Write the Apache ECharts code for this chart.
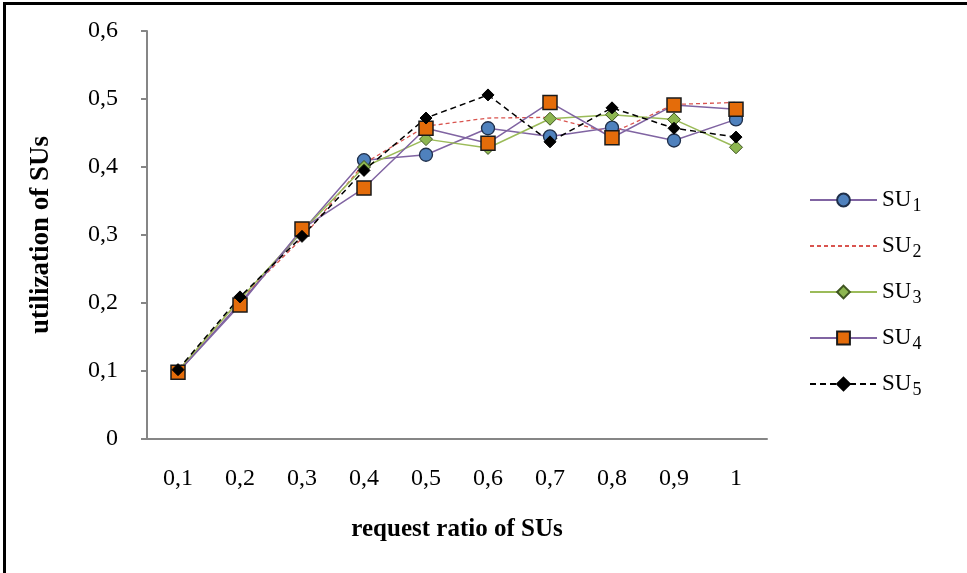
<!DOCTYPE html>
<html>
<head>
<meta charset="utf-8">
<script src="https://cdn.jsdelivr.net/npm/echarts@6/dist/echarts.min.js"></script>
<style>
  html, body { margin: 0; padding: 0; background: #fff; }
  #frame { position: absolute; left: 3px; top: 2px; width: 964px; height: 571px;
           border-left: 3px solid #000; border-top: 3px solid #000; box-sizing: border-box; }
  #chart { position: absolute; left: 0; top: 0; width: 967px; height: 573px; }
</style>
</head>
<body>
<div id="frame"></div>
<div id="chart"></div>
<script>
// request ratio of SUs (categories)
const ratios = ['0,1', '0,2', '0,3', '0,4', '0,5', '0,6', '0,7', '0,8', '0,9', '1'];

// utilization of each SU
const su1 = [0.098, 0.200, 0.305, 0.410, 0.418, 0.457, 0.445, 0.458, 0.439, 0.470];
const su2 = [0.100, 0.205, 0.295, 0.405, 0.460, 0.472, 0.473, 0.450, 0.492, 0.495];
const su3 = [0.100, 0.205, 0.305, 0.400, 0.441, 0.428, 0.471, 0.477, 0.470, 0.429];
const su4 = [0.098, 0.197, 0.309, 0.369, 0.457, 0.435, 0.495, 0.443, 0.491, 0.485];
const su5 = [0.102, 0.209, 0.298, 0.395, 0.472, 0.506, 0.437, 0.487, 0.457, 0.444];

const font = '"Liberation Serif", "DejaVu Serif", serif';
const axisGrey = '#868686';

const chart = echarts.init(document.getElementById('chart'), null, { renderer: 'canvas' });

function lineSeries(name, data, opts) {
  return Object.assign({
    name: name,
    type: 'line',
    data: data,
    z: 2
  }, opts);
}

chart.setOption({
  animation: false,
  backgroundColor: 'transparent',
  grid: { left: 147, right: 200, top: 31, bottom: 134 },
  xAxis: {
    type: 'category',
    data: ratios,
    boundaryGap: true,
    name: 'request ratio of SUs',
    nameLocation: 'middle',
    nameGap: 78,
    nameTextStyle: { fontFamily: font, fontSize: 25, fontWeight: 'bold', color: '#000' },
    axisLine: { lineStyle: { color: axisGrey, width: 2 } },
    axisTick: { show: false },
    axisLabel: { fontFamily: font, fontSize: 24, color: '#000', margin: 28 },
    splitLine: { show: false }
  },
  yAxis: {
    type: 'value',
    min: 0,
    max: 0.6,
    interval: 0.1,
    name: 'utilization of SUs',
    nameLocation: 'middle',
    nameGap: 92,
    nameTextStyle: { fontFamily: font, fontSize: 27, fontWeight: 'bold', color: '#000' },
    axisLine: { show: true, lineStyle: { color: axisGrey, width: 2 } },
    axisTick: { show: true, length: 6, lineStyle: { color: axisGrey, width: 2 } },
    axisLabel: {
      fontFamily: font, fontSize: 24, color: '#000', margin: 29,
      formatter: v => (Math.round(v * 10) / 10).toString().replace('.', ',')
    },
    splitLine: { show: false }
  },
  legend: {
    orient: 'vertical',
    left: 804,
    top: 180,
    itemWidth: 67,
    itemHeight: 16,
    itemGap: 16,
    data: [
      'SU1',
      { name: 'SU2', itemStyle: { color: 'rgba(0,0,0,0)', borderWidth: 0 } },
      'SU3', 'SU4', 'SU5'
    ],
    formatter: n => '{a|SU}{b|' + n.slice(2) + '}',
    textStyle: {
      fontFamily: font,
      color: '#000',
      rich: {
        a: { fontFamily: font, fontSize: 23, color: '#000', verticalAlign: 'top', lineHeight: 24 },
        b: { fontFamily: font, fontSize: 18, color: '#000', padding: [12, 0, 0, 1], lineHeight: 24 }
      }
    }
  },
  series: [
    lineSeries('SU1', su1, {
      symbol: 'circle', symbolSize: 13,
      lineStyle: { color: '#8064A2', width: 1.5 },
      itemStyle: { color: '#4F81BD', borderColor: '#1F2F4A', borderWidth: 1.3 }
    }),
    lineSeries('SU2', su2, {
      symbol: 'none',
      lineStyle: { color: '#D9544F', width: 1.3, type: [4, 3] },
      itemStyle: { color: '#D9544F' }
    }),
    lineSeries('SU3', su3, {
      symbol: 'diamond', symbolSize: 13,
      lineStyle: { color: '#9BBB59', width: 1.5 },
      itemStyle: { color: '#8DB650', borderColor: '#3E5420', borderWidth: 1 }
    }),
    lineSeries('SU4', su4, {
      symbol: 'rect', symbolSize: 14,
      lineStyle: { color: '#8064A2', width: 1.5 },
      itemStyle: { color: '#E46C0A', borderColor: '#1a1a1a', borderWidth: 1.5 }
    }),
    lineSeries('SU5', su5, {
      symbol: 'diamond', symbolSize: 12,
      lineStyle: { color: '#000', width: 1.5, type: [6, 4] },
      itemStyle: { color: '#000', borderColor: '#000', borderWidth: 1 }
    })
  ]
});
</script>
</body>
</html>
